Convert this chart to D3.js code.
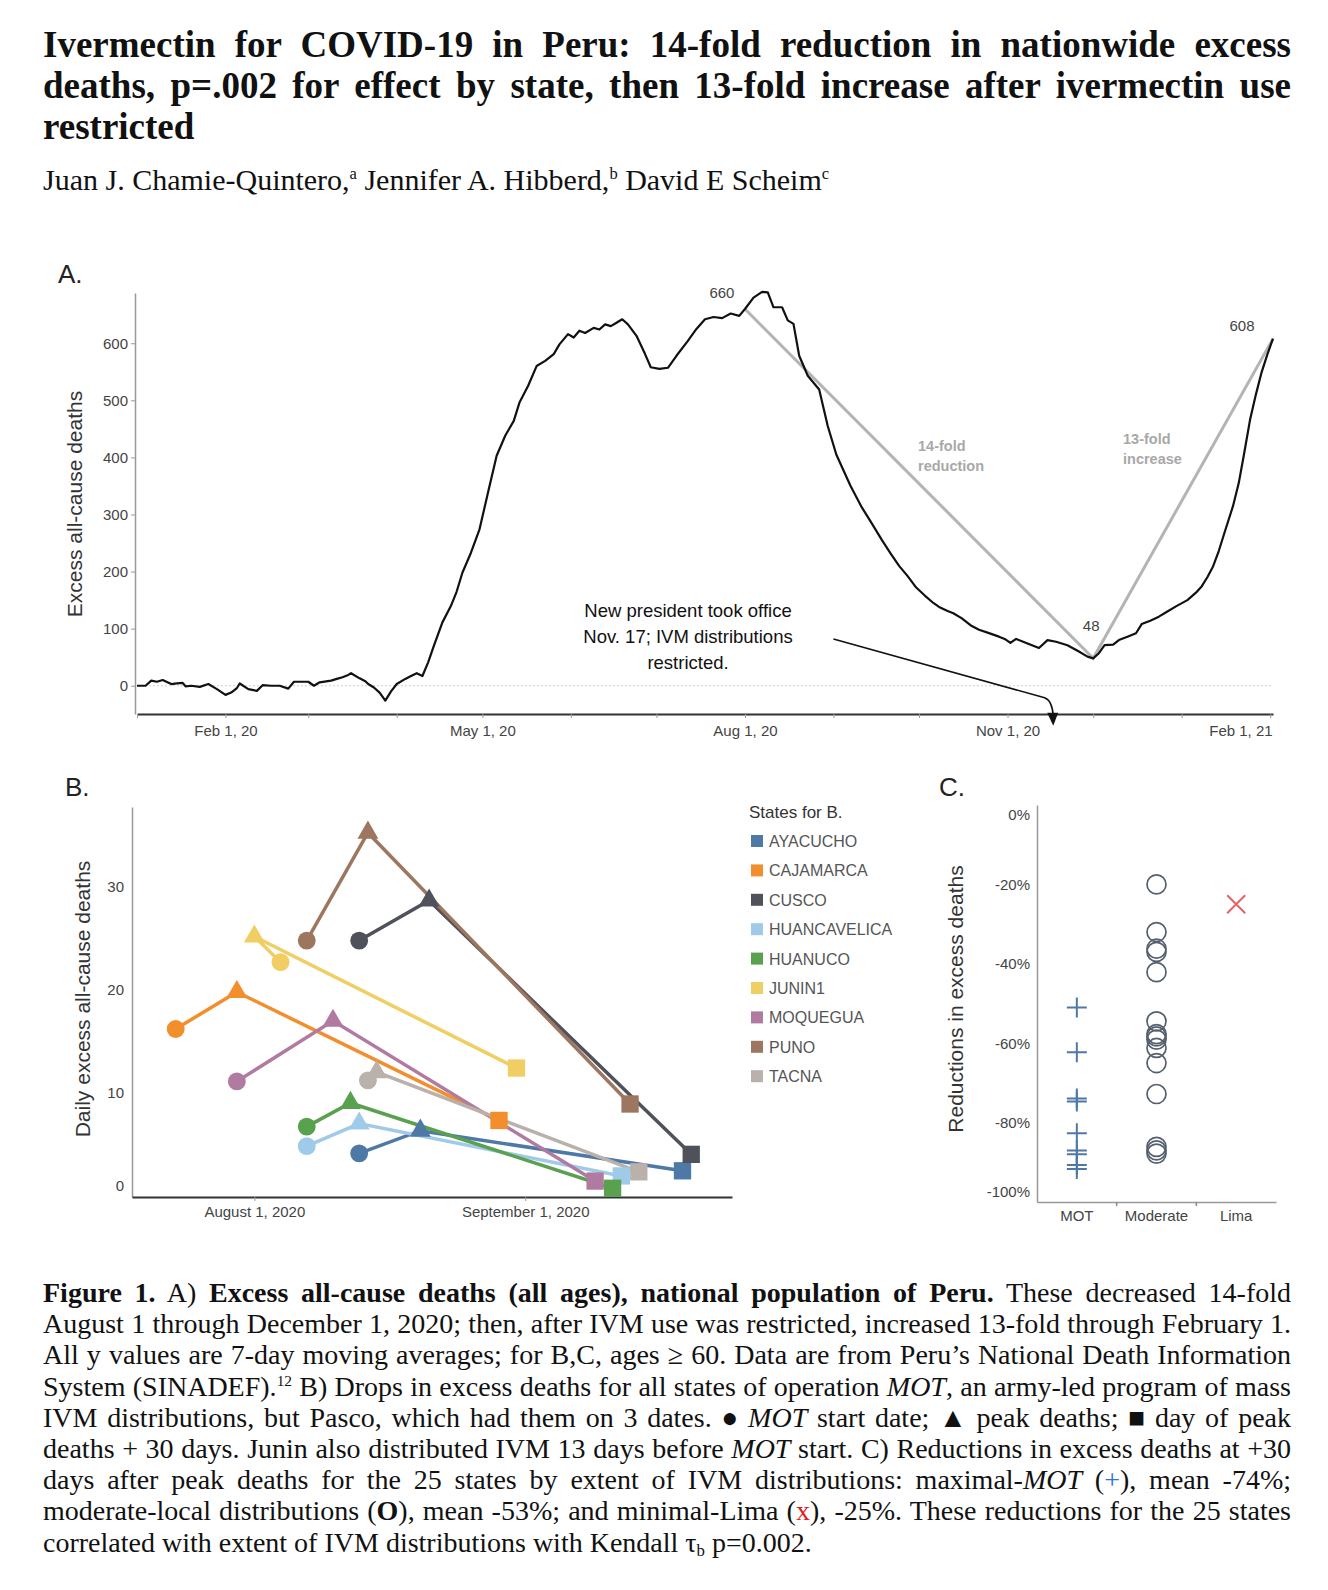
<!DOCTYPE html>
<html>
<head>
<meta charset="utf-8">
<script src="https://cdn.jsdelivr.net/npm/d3@7"></script>
<style>
  body { margin: 0; background: #fff; }
  #page { position: relative; width: 1328px; height: 1590px; overflow: hidden; background: #fff; }
  .txt { position: absolute; font-family: "Liberation Serif", "Times New Roman", serif; color: #111; }
  .txt div { white-space: nowrap; }
  .txt sup { font-size: 55%; vertical-align: 0; position: relative; top: -0.65em; line-height: 0; }
  .txt sub { font-size: 60%; vertical-align: 0; position: relative; top: 0.25em; line-height: 0; }
  svg { position: absolute; left: 0; top: 0; }
  svg text { font-family: "Liberation Sans", Arial, sans-serif; }
</style>
</head>
<body>
<div id="page"></div>
<script>
// ---------- data ----------
// A) national excess deaths, 7-day average (read off the curve)
var aDates = [
  "2020-01-01","2020-01-04","2020-01-06","2020-01-08","2020-01-10","2020-01-13","2020-01-15","2020-01-17","2020-01-18","2020-01-20",
  "2020-01-23","2020-01-26","2020-01-29","2020-02-01","2020-02-03","2020-02-05","2020-02-06","2020-02-09","2020-02-12","2020-02-14",
  "2020-02-17","2020-02-20","2020-02-23","2020-02-25","2020-03-01","2020-03-03","2020-03-05","2020-03-09","2020-03-11","2020-03-13",
  "2020-03-15","2020-03-16","2020-03-19","2020-03-21","2020-03-22","2020-03-24","2020-03-26","2020-03-28","2020-03-30","2020-04-01",
  "2020-04-04","2020-04-06","2020-04-08","2020-04-10","2020-04-12","2020-04-14","2020-04-17","2020-04-20","2020-04-22","2020-04-24",
  "2020-04-27","2020-04-30","2020-05-03","2020-05-06","2020-05-09","2020-05-12","2020-05-14","2020-05-17","2020-05-20","2020-05-23",
  "2020-05-26","2020-05-28","2020-05-31","2020-06-02","2020-06-04","2020-06-06","2020-06-09","2020-06-11","2020-06-13","2020-06-15",
  "2020-06-17","2020-06-19","2020-06-21","2020-06-24","2020-06-27","2020-06-29","2020-07-02","2020-07-05","2020-07-08","2020-07-12",
  "2020-07-15","2020-07-18","2020-07-21","2020-07-24","2020-07-27","2020-07-30","2020-08-01","2020-08-04","2020-08-07","2020-08-09",
  "2020-08-11","2020-08-14","2020-08-16","2020-08-18","2020-08-20","2020-08-23","2020-08-27","2020-08-30","2020-09-02","2020-09-07",
  "2020-09-11","2020-09-14","2020-09-18","2020-09-21","2020-09-24","2020-09-27","2020-09-30","2020-10-03","2020-10-06","2020-10-08",
  "2020-10-11","2020-10-13","2020-10-16","2020-10-19","2020-10-22","2020-10-25","2020-10-29","2020-10-31","2020-11-02","2020-11-04",
  "2020-11-08","2020-11-12","2020-11-15","2020-11-18","2020-11-22","2020-11-26","2020-11-29","2020-12-01","2020-12-03","2020-12-05",
  "2020-12-08","2020-12-10","2020-12-13","2020-12-16","2020-12-18","2020-12-21","2020-12-24","2020-12-27","2020-12-30","2021-01-03",
  "2021-01-06","2021-01-08","2021-01-10","2021-01-12","2021-01-14","2021-01-16","2021-01-19","2021-01-21","2021-01-23","2021-01-25",
  "2021-01-27","2021-01-29","2021-01-31","2021-02-02"
];
var aValues = [
  0, 0, 9, 7, 10, 3, 4, 5, -1, 0,
  -2, 3, -6, -16, -12, -4, 4, -6, -9, 1,
  0, 0, -5, 7, 7, 0, 6, 9, 12, 15,
  19, 22, 13, 8, 3, -3, -12, -26, -10, 3,
  12, 17, 22, 17, 41, 70, 111, 140, 165, 198,
  233, 274, 339, 403, 438, 464, 496, 525, 560, 569,
  581, 598, 616, 610, 622, 618, 627, 624, 633, 630,
  636, 642, 633, 613, 581, 558, 555, 557, 578, 604,
  625, 642, 646, 644, 652, 648, 660, 680, 690, 689,
  663, 663, 640, 634, 578, 543, 519, 455, 405, 350,
  312, 288, 255, 232, 210, 192, 172, 158, 145, 138,
  131, 127, 118, 106, 98, 93, 86, 82, 75, 82,
  74, 66, 80, 77, 71, 60, 51, 48, 57, 71,
  72, 80, 86, 92, 108, 114, 121, 130, 139, 150,
  163, 174, 190, 209, 236, 268, 315, 355, 410, 467,
  510, 549, 580, 608
];
// gray fold lines: Aug 1 -> Dec 1 -> Feb 1
var foldDates = ["2020-08-01", "2020-12-01", "2021-02-02"];
var foldValues = [660, 48, 608];
var aYTicks = [0, 100, 200, 300, 400, 500, 600];

// B) MOT states: start (circle), peak (triangle), peak + 30 days (square)
var states = ["AYACUCHO", "CAJAMARCA", "CUSCO", "HUANCAVELICA", "HUANUCO", "JUNIN1", "MOQUEGUA", "PUNO", "TACNA"];
var stateColors = ["#4e79a7", "#f28e2b", "#4f525b", "#a0cbe8", "#59a14f", "#f1ce63", "#b07aa1", "#9d7660", "#bab0ac"];
var startDates = ["2020-08-13", "2020-07-23", "2020-08-13", "2020-08-07", "2020-08-07", "2020-08-04", "2020-07-30", "2020-08-07", "2020-08-14"];
var startValues = [4.1, 16.2, 24.8, 4.8, 6.7, 22.7, 11.1, 24.8, 11.2];
var peakDates = ["2020-08-20", "2020-07-30", "2020-08-21", "2020-08-13", "2020-08-12", "2020-08-01", "2020-08-10", "2020-08-14", "2020-08-15"];
var peakValues = [6.3, 19.8, 28.7, 7.0, 9.0, 25.2, 17.0, 35.3, 12.0];
var plus30Dates = ["2020-09-19", "2020-08-29", "2020-09-20", "2020-09-12", "2020-09-11", "2020-08-31", "2020-09-09", "2020-09-13", "2020-09-14"];
var plus30Values = [2.4, 7.3, 4.0, 1.9, 0.7, 12.4, 1.4, 8.9, 2.3];
var bYTicks = [0, 10, 20, 30];
var bXTicks = ["2020-08-01", "2020-09-01"];

// C) reductions at +30 days by extent of IVM distribution
var cCategories = ["MOT", "Moderate", "Lima"];
var motReductions = [-51, -62.3, -73.9, -74.7, -82.7, -87, -88, -90.7, -91.7];
var moderateReductions = [-20, -32, -36.2, -37, -42.1, -54.5, -57.7, -58.3, -59.1, -61.2, -65, -72.8, -86.1, -87, -87.8];
var limaReductions = [-25];
var cYTicks = [0, -20, -40, -60, -80, -100];

// ---------- page text ----------
var page = d3.select("#page");
var svg = page.append("svg").attr("width", 1328).attr("height", 1590);

// one div per line; word spacing stretched to fill the measure
function justifiedBlock(opts, lines) {
  var box = page.append("div").attr("class", "txt")
    .style("left", opts.left + "px").style("top", opts.top + "px").style("width", opts.width + "px")
    .style("font-size", opts.size + "px").style("line-height", opts.lh + "px")
    .style("font-weight", opts.weight || "normal");
  lines.forEach(function(html, i) {
    var line = box.append("div");
    var span = line.append("span").html(html);
    if (i < lines.length - 1) {
      var w = span.node().getBoundingClientRect().width;
      var gaps = (span.node().textContent.match(/ /g) || []).length;
      if (gaps) line.style("word-spacing", ((opts.width - w) / gaps) + "px");
    }
  });
  return box;
}

justifiedBlock({ left: 43, top: 24, width: 1248, size: 37, lh: 41, weight: "bold" }, [
  "Ivermectin for COVID-19 in Peru: 14-fold reduction in nationwide excess",
  "deaths, p=.002 for effect by state, then 13-fold increase after ivermectin use",
  "restricted"
]);

justifiedBlock({ left: 43, top: 163, width: 1248, size: 30, lh: 34 }, [
  "Juan J. Chamie-Quintero,<sup>a</sup> Jennifer A. Hibberd,<sup>b</sup> David E Scheim<sup>c</sup>"
]);

justifiedBlock({ left: 43, top: 1277, width: 1248, size: 28, lh: 31.2 }, [
  "<b>Figure 1.</b> A) <b>Excess all-cause deaths (all ages), national population of Peru.</b> These decreased 14-fold",
  "August 1 through December 1, 2020; then, after IVM use was restricted, increased 13-fold through February 1.",
  "All y values are 7-day moving averages; for B,C, ages \u2265 60. Data are from Peru\u2019s National Death Information",
  "System (SINADEF).<sup>12</sup> B) Drops in excess deaths for all states of operation <i>MOT</i>, an army-led program of mass",
  "IVM distributions, but Pasco, which had them on 3 dates. \u25CF <i>MOT</i> start date; \u25B2 peak deaths; \u25A0 day of peak",
  "deaths + 30 days. Junin also distributed IVM 13 days before <i>MOT</i> start. C) Reductions in excess deaths at +30",
  "days after peak deaths for the 25 states by extent of IVM distributions: maximal-<i>MOT</i> (<span style='color:#2f6fd6'>+</span>), mean -74%;",
  "moderate-local distributions (<b>O</b>), mean -53%; and minimal-Lima (<span style='color:#e0201b'>x</span>), -25%. These reductions for the 25 states",
  "correlated with extent of IVM distributions with Kendall \u03C4<sub>b</sub> p=0.002."
]);

// ---------- panel A ----------
var parse = d3.timeParse("%Y-%m-%d");
var seriesA = aDates.map(function(d, i) { return { date: parse(d), value: aValues[i] }; });

var xA = d3.scaleTime().domain([parse("2020-01-01"), parse("2021-02-02")]).range([137, 1273]);
var yA = d3.scaleLinear().domain([-49.5, 688]).range([714, 293]);

var gA = svg.append("g");
gA.append("text").attr("x", 58).attr("y", 283).attr("font-size", 26).attr("fill", "#222").text("A.");

// zero reference line
gA.append("line").attr("x1", xA.range()[0]).attr("x2", xA.range()[1])
  .attr("y1", yA(0)).attr("y2", yA(0))
  .attr("stroke", "#d0d0d0").attr("stroke-dasharray", "2,2");

var axA = gA.append("g").attr("transform", "translate(135,0)")
  .call(d3.axisLeft(yA).tickValues(aYTicks).tickSize(4).tickSizeOuter(0).tickPadding(3));
axA.select(".domain").attr("stroke", "#999").attr("stroke-width", 1.5);
axA.selectAll(".tick line").attr("stroke", "#999");
axA.selectAll(".tick text").attr("font-size", 15).attr("fill", "#444");

var axAx = gA.append("g").attr("transform", "translate(0,714)")
  .call(d3.axisBottom(xA).ticks(d3.timeMonth.every(1)).tickSize(4).tickSizeOuter(0).tickPadding(7)
    .tickFormat(function(d) {
      return [1, 4, 7, 10].indexOf(d.getMonth()) >= 0 ? d3.timeFormat("%b %-d, %y")(d) : "";
    }));
axAx.select(".domain").attr("stroke", "#333").attr("stroke-width", 2.2);
axAx.selectAll(".tick line").attr("stroke", "#999");
axAx.selectAll(".tick text").attr("font-size", 15).attr("fill", "#444");
axAx.selectAll(".tick text").filter(function(d) { return d.getFullYear() === 2021; })
  .attr("text-anchor", "end").attr("dx", 2);

gA.append("text")
  .attr("transform", "translate(82,504) rotate(-90)")
  .attr("text-anchor", "middle").attr("font-size", 21).attr("fill", "#333")
  .text("Excess all-cause deaths");

// fold lines
var foldPts = foldDates.map(function(d, i) { return { date: parse(d), value: foldValues[i] }; });
var lineA = d3.line().x(function(d) { return xA(d.date); }).y(function(d) { return yA(d.value); });
gA.append("path").datum(foldPts).attr("d", lineA)
  .attr("fill", "none").attr("stroke", "#b4b4b4").attr("stroke-width", 3);

gA.append("path").datum(seriesA).attr("d", lineA)
  .attr("fill", "none").attr("stroke", "#111").attr("stroke-width", 2.2).attr("stroke-linejoin", "round");

// value labels at fold points
var foldLabelOffsets = [[-23, -11], [-2, -27], [-31, -8]];
gA.selectAll(".foldlab").data(foldPts).enter().append("text")
  .attr("x", function(d, i) { return xA(d.date) + foldLabelOffsets[i][0]; })
  .attr("y", function(d, i) { return yA(d.value) + foldLabelOffsets[i][1]; })
  .attr("text-anchor", "middle").attr("font-size", 15).attr("fill", "#444")
  .text(function(d) { return d.value; });

function grayNote(x, y, lines) {
  gA.append("text").attr("x", x).attr("y", y).attr("font-size", 14.5).attr("font-weight", "bold").attr("fill", "#a8a8a8")
    .selectAll("tspan").data(lines).enter().append("tspan")
    .attr("x", x).attr("dy", function(d, i) { return i ? 20 : 0; }).text(function(d) { return d; });
}
grayNote(918, 451, ["14-fold", "reduction"]);
grayNote(1123, 444, ["13-fold", "increase"]);

// president annotation
gA.append("text").attr("x", 688).attr("y", 617).attr("font-size", 18.5).attr("fill", "#111").attr("text-anchor", "middle")
  .selectAll("tspan").data(["New president took office", "Nov. 17; IVM distributions", "restricted."]).enter().append("tspan")
  .attr("x", 688).attr("dy", function(d, i) { return i ? 26 : 0; }).text(function(d) { return d; });

var arrowFrom = [xA(parse("2020-09-01")), yA(82)];
var arrowBend = [xA(parse("2020-11-14")), yA(-21)];
var tip = [xA(parse("2020-11-17")), yA(-70)];
gA.append("path")
  .attr("d", "M" + arrowFrom + "L" + arrowBend + "Q" + [tip[0] - 1, arrowBend[1] + 3] + " " + [tip[0], tip[1] - 10])
  .attr("fill", "none").attr("stroke", "#111").attr("stroke-width", 1.6);
gA.append("path")
  .attr("d", "M" + [tip[0] - 6, tip[1] - 13] + "L" + [tip[0] + 5, tip[1] - 13] + "L" + tip + "Z")
  .attr("fill", "#111");

// ---------- panel B ----------
var xB = d3.scaleTime().domain([parse("2020-07-18"), new Date(2020, 8, 24, 16)]).range([132, 732]);
var yB = d3.scaleLinear().domain([-0.15, 37.8]).range([1197, 807]);

var gB = svg.append("g");
gB.append("text").attr("x", 65).attr("y", 796).attr("font-size", 26).attr("fill", "#222").text("B.");

var axB = gB.append("g").attr("transform", "translate(132,0)")
  .call(d3.axisLeft(yB).tickValues(bYTicks).tickSize(0).tickSizeOuter(0).tickPadding(8));
axB.select(".domain").attr("stroke", "#999").attr("stroke-width", 1.5);
axB.selectAll(".tick text").attr("font-size", 15).attr("fill", "#444")
  .attr("dy", function(d) { return d === 0 ? "-0.3em" : "0.32em"; });

var axBx = gB.append("g").attr("transform", "translate(0,1197)")
  .call(d3.axisBottom(xB).tickValues(bXTicks.map(parse)).tickSize(4).tickSizeOuter(0).tickPadding(5)
    .tickFormat(d3.timeFormat("%B %-d, %Y")));
axBx.select(".domain").attr("stroke", "#333").attr("stroke-width", 2.2);
axBx.selectAll(".tick line").attr("stroke", "#999");
axBx.selectAll(".tick text").attr("font-size", 15).attr("fill", "#444");

gB.append("text")
  .attr("transform", "translate(90,999) rotate(-90)")
  .attr("text-anchor", "middle").attr("font-size", 21).attr("fill", "#333")
  .text("Daily excess all-cause deaths");

var stateData = states.map(function(s, i) {
  return {
    name: s, color: stateColors[i],
    pts: [
      { date: parse(startDates[i]), value: startValues[i], kind: "circle" },
      { date: parse(peakDates[i]), value: peakValues[i], kind: "triangle" },
      { date: parse(plus30Dates[i]), value: plus30Values[i], kind: "square" }
    ]
  };
});
var lineB = d3.line().x(function(d) { return xB(d.date); }).y(function(d) { return yB(d.value); });
var symType = { circle: d3.symbolCircle, triangle: d3.symbolTriangle, square: d3.symbolSquare };
var symSize = { circle: 250, triangle: 190, square: 300 };

gB.selectAll(".sline").data(stateData).enter().append("path")
  .attr("d", function(d) { return lineB(d.pts); })
  .attr("fill", "none").attr("stroke", function(d) { return d.color; }).attr("stroke-width", 3.5);

stateData.forEach(function(s) {
  gB.selectAll(null).data(s.pts).enter().append("path")
    .attr("transform", function(d) { return "translate(" + xB(d.date) + "," + yB(d.value) + ")"; })
    .attr("d", function(d) { return d3.symbol().type(symType[d.kind]).size(symSize[d.kind])(); })
    .attr("fill", s.color);
});

// legend
var gL = svg.append("g");
gL.append("text").attr("x", 749).attr("y", 818).attr("font-size", 17).attr("fill", "#333").text("States for B.");
var legItems = gL.selectAll(".leg").data(states).enter().append("g")
  .attr("transform", function(d, i) { return "translate(751," + (841 + i * 29.4) + ")"; });
legItems.append("rect").attr("x", 0).attr("y", -6).attr("width", 12).attr("height", 12)
  .attr("fill", function(d, i) { return stateColors[i]; });
legItems.append("text").attr("x", 18).attr("y", 6).attr("font-size", 16).attr("fill", "#555")
  .text(function(d) { return d; });

// ---------- panel C ----------
var xC = d3.scaleBand().domain(cCategories).range([1037, 1276]);
var yC = d3.scaleLinear().domain([-100, 0]).range([1202, 805]);

var gC = svg.append("g");
gC.append("text").attr("x", 939).attr("y", 796).attr("font-size", 26).attr("fill", "#222").text("C.");

var axC = gC.append("g").attr("transform", "translate(1037,0)")
  .call(d3.axisLeft(yC).tickValues(cYTicks).tickSize(0).tickSizeOuter(0).tickPadding(7)
    .tickFormat(function(d) { return d + "%"; }));
axC.select(".domain").attr("stroke", "#999").attr("stroke-width", 1.5);
axC.selectAll(".tick text").attr("font-size", 15).attr("fill", "#444")
  .attr("dy", function(d) { return d === 0 ? "0.95em" : d === -100 ? "-0.4em" : "0.32em"; });

var axCx = gC.append("g").attr("transform", "translate(0,1202)")
  .call(d3.axisBottom(xC).tickSize(0).tickSizeOuter(0).tickPadding(8));
axCx.select(".domain").attr("stroke", "#999").attr("stroke-width", 1.5);
axCx.selectAll(".tick text").attr("font-size", 15).attr("fill", "#444");
axCx.selectAll(".sep").data(cCategories.slice(1)).enter().append("line")
  .attr("class", "sep").attr("x1", function(d) { return xC(d); }).attr("x2", function(d) { return xC(d); })
  .attr("y1", 0).attr("y2", 4).attr("stroke", "#888").attr("stroke-width", 1.5);

gC.append("text")
  .attr("transform", "translate(963,999) rotate(-90)")
  .attr("text-anchor", "middle").attr("font-size", 21).attr("fill", "#333")
  .text("Reductions in excess deaths");

var cx = function(cat) { return xC(cat) + xC.bandwidth() / 2; };
gC.selectAll(".mot").data(motReductions).enter().append("path")
  .attr("transform", function(d) { return "translate(" + cx("MOT") + "," + yC(d) + ")"; })
  .attr("d", "M-10,0H10M0,-10V10").attr("stroke", "#4e79a7").attr("stroke-width", 2).attr("fill", "none");
gC.selectAll(".mod").data(moderateReductions).enter().append("circle")
  .attr("cx", cx("Moderate")).attr("cy", function(d) { return yC(d); }).attr("r", 9.5)
  .attr("fill", "none").attr("stroke", "#55606e").attr("stroke-width", 1.7);
gC.selectAll(".lima").data(limaReductions).enter().append("path")
  .attr("transform", function(d) { return "translate(" + cx("Lima") + "," + yC(d) + ")"; })
  .attr("d", "M-9,-9L9,9M-9,9L9,-9").attr("stroke", "#e06666").attr("stroke-width", 2).attr("fill", "none");
</script>
</body>
</html>
